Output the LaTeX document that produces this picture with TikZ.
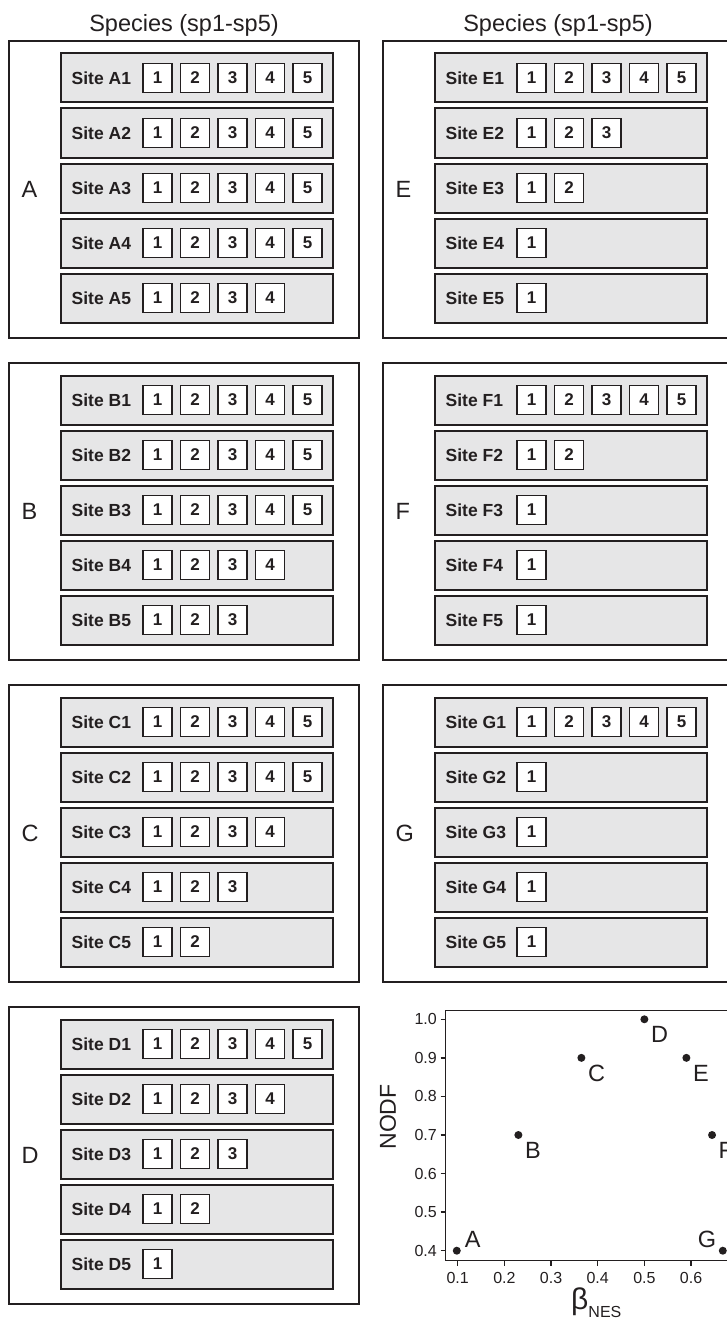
\documentclass[tikz,border=0pt]{standalone}
\usepackage{fontspec}
\setmainfont{Liberation Sans}
\usepackage{tikz}
\usetikzlibrary{positioning}
\definecolor{rowgray}{RGB}{230,230,231}
\definecolor{ink}{RGB}{35,31,32}

\begin{document}
\begin{tikzpicture}[x=1pt, y=-1pt, node distance=4pt and 3.5pt, color=ink,
  panel/.style={draw, line width=2pt, outer sep=0pt, inner sep=0pt, minimum width=350pt, minimum height=297pt},
  siterow/.style={draw, fill=rowgray, line width=2pt, outer sep=0pt, inner sep=0pt, minimum width=272pt, minimum height=49pt},
  sitelab/.style={inner sep=0pt, font=\fontsize{17.5}{20}\selectfont\bfseries},
  spbox/.style={draw, fill=white, line width=1.7pt, outer sep=0pt, inner sep=0pt, minimum size=29pt, font=\fontsize{17}{20}\selectfont\bfseries},
  letter/.style={inner sep=0pt, font=\fontsize{23.5}{28}\selectfont},
  tick/.style={inner sep=0pt, font=\fontsize{16}{19}\selectfont},
  axis/.style={line width=1.5pt},
  dot/.style={circle, fill, inner sep=0pt, minimum size=8pt}]
  \useasboundingbox (0,0) rectangle (727,1319);
  \clip (0,0) rectangle (727,1319);

  % site panels
  \foreach \p/\px/\py/\counts in {A/9/41/{5,5,5,5,4}, B/9/363/{5,5,5,4,3},
      C/9/685/{5,5,4,3,2}, D/9/1007/{5,4,3,2,1}, E/383/41/{5,3,2,1,1},
      F/383/363/{5,2,1,1,1}, G/383/685/{5,1,1,1,1}} {
    \node[panel] (panel\p) at (\px+175,\py+148.5) {};
    \node[letter, right=12.5pt of panel\p.west] (letter\p) {\p};
    \foreach \c [count=\r] in \counts {
      \node[siterow] (row\p\r) at (\px+188,\py+37+55*\r-55) {};
      \node[sitelab, right=10.5pt of row\p\r.west] (lab\p\r) {Site \p\r};
      \foreach \k in {1,...,\c}
        \node[spbox] (sp\p\r-\k) at ([xshift=59pt+37.5pt*\k]row\p\r.west) {\k};
    }
  }
  \node[letter, above=4.5pt of panelA] (titleL) {Species (sp1-sp5)};
  \node[letter, above=4.5pt of panelE] (titleR) {Species (sp1-sp5)};

  % NODF vs beta plot
  \draw[axis] (445.7,1010.7) rectangle (800,1260.7);
  \foreach \v/\t in {0/0.4,1/0.5,2/0.6,3/0.7,4/0.8,5/0.9,6/1.0} {
    \draw[axis] (440.5,1250.7-38.57*\v) -- (445.7,1250.7-38.57*\v);
    \node[tick, anchor=east] (ytick\v) at (437,1250.7-38.57*\v) {\t};
  }
  \foreach \v/\t in {0/0.1,1/0.2,2/0.3,3/0.4,4/0.5,5/0.6} {
    \draw[axis] (457.7+46.67*\v,1260.7) -- (457.7+46.67*\v,1266);
    \node[tick, anchor=north] (xtick\v) at (457.7+46.67*\v,1272.5) {\t};
  }
  \node[rotate=90, inner sep=0pt, font=\fontsize{23}{27}\selectfont] (ylab) at (388,1117) {NODF};
  \node[anchor=base west, inner sep=0pt] (xlab) at (571,1309)
    {{\fontsize{30}{34}\selectfont β}{\fontsize{16}{19}\selectfont\raisebox{-8pt}{NES}}};

  \foreach \s/\u/\v in {A/0.098/0.4, B/0.23/0.7, C/0.365/0.9, D/0.5/1.0,
      E/0.59/0.9, F/0.645/0.7, G/0.668/0.4}
    \node[dot] (pt\s) at ({457.7+(\u-0.1)*466.7},{1250.7-(\v-0.4)*385.7}) {};
  \node[letter, above right=0pt and 5pt of ptA] (labA) {A};
  \node[letter, below right=of ptB] (labB) {B};
  \node[letter, below right=of ptC] (labC) {C};
  \node[letter, below right=of ptD] (labD) {D};
  \node[letter, below right=of ptE] (labE) {E};
  \node[letter, below right=of ptF] (labF) {F};
  \node[letter, above left=0pt and 3.5pt of ptG] (labG) {G};
\end{tikzpicture}
\end{document}
